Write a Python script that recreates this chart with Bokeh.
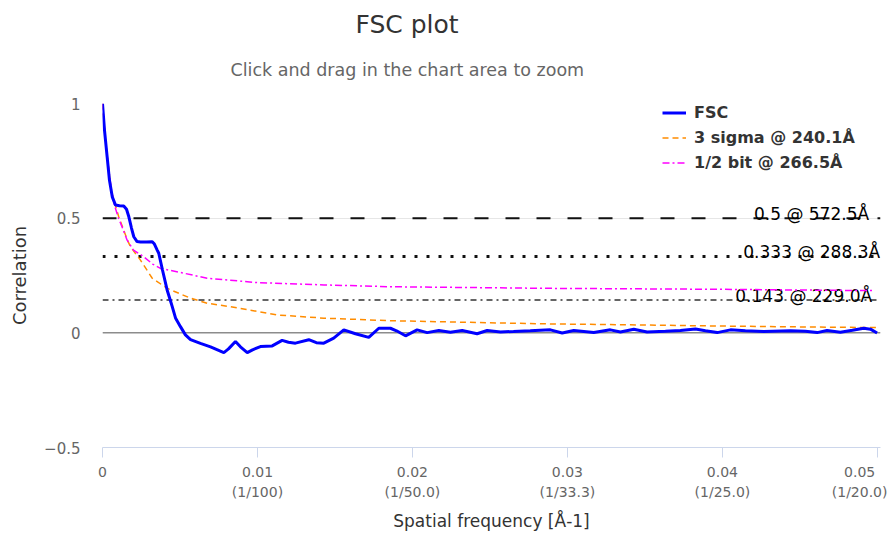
from bokeh.plotting import figure
from bokeh.models import Range1d, FixedTicker, Span, Title, Legend, LegendItem
from bokeh.core.properties import value
from bokeh.embed import file_html
from bokeh.resources import INLINE

FONT = "DejaVu Sans"

# FSC curve: spatial frequency [1/Å] vs correlation
fsc_freq = [0, 0.00013, 0.0003, 0.00045, 0.00063, 0.00084, 0.0011, 0.00137, 0.00155, 0.0017,
            0.00187, 0.00202, 0.00223, 0.00245, 0.00284, 0.00321, 0.00335, 0.00353, 0.00363, 0.00387,
            0.00417, 0.00437, 0.0045, 0.00471, 0.00503, 0.00535, 0.00568, 0.00632, 0.00697, 0.00742,
            0.00783, 0.00813, 0.00858, 0.0089, 0.00934, 0.00968, 0.01019, 0.01095, 0.01159, 0.012,
            0.01245, 0.01331, 0.0138, 0.01428, 0.01492, 0.01557, 0.01632, 0.01718, 0.01783, 0.01858,
            0.01897, 0.01955, 0.0203, 0.02095, 0.0217, 0.02245, 0.02321, 0.02417, 0.02482, 0.02568,
            0.02652, 0.0276, 0.0289, 0.02966, 0.03041, 0.0317, 0.03277, 0.03342, 0.03428, 0.03514,
            0.03632, 0.03729, 0.03826, 0.0389, 0.03966, 0.04052, 0.04148, 0.04266, 0.04439, 0.04535,
            0.04611, 0.04675, 0.04761, 0.04839, 0.04912, 0.04955, 0.04998]
fsc_corr = [1.0, 0.883, 0.767, 0.665, 0.593, 0.557, 0.554, 0.553, 0.539, 0.506,
            0.457, 0.419, 0.398, 0.396, 0.396, 0.397, 0.387, 0.361, 0.347, 0.274,
            0.187, 0.143, 0.114, 0.065, 0.027, -0.009, -0.030, -0.046, -0.061, -0.074,
            -0.086, -0.070, -0.038, -0.061, -0.086, -0.074, -0.060, -0.057, -0.033, -0.041,
            -0.045, -0.030, -0.043, -0.045, -0.023, 0.013, -0.004, -0.020, 0.020, 0.020,
            0.009, -0.013, 0.013, 0.001, 0.010, 0.003, 0.010, -0.004, 0.010, 0.004,
            0.006, 0.009, 0.013, -0.001, 0.010, 0.001, 0.013, 0.004, 0.016, 0.004,
            0.007, 0.010, 0.017, 0.009, 0.001, 0.013, 0.009, 0.006, 0.009, 0.007,
            0.001, 0.010, 0.003, 0.011, 0.020, 0.016, -0.001]

# 3-sigma threshold curve
sigma_freq = [0, 0.00019, 0.00041, 0.00055, 0.00073, 0.00105, 0.00137, 0.00161, 0.00181, 0.00245,
              0.00321, 0.00417, 0.00568, 0.00675, 0.00826, 0.01127, 0.01428, 0.01858, 0.02342, 0.02869,
              0.03406, 0.03942, 0.04471, 0.04998]
sigma_corr = [1.0, 0.839, 0.709, 0.622, 0.578, 0.506, 0.448, 0.404, 0.375, 0.317,
              0.238, 0.194, 0.151, 0.129, 0.114, 0.078, 0.064, 0.053, 0.046, 0.039,
              0.035, 0.030, 0.026, 0.023]

# 1/2-bit threshold curve
halfbit_freq = [0, 0.00019, 0.00039, 0.00058, 0.00077, 0.00103, 0.00129, 0.00159, 0.002, 0.00266,
                0.00323, 0.00374, 0.00525, 0.00675, 0.00998, 0.01428, 0.01858, 0.02869, 0.03942, 0.04974]
halfbit_corr = [1.0, 0.839, 0.717, 0.622, 0.557, 0.500, 0.457, 0.404, 0.361, 0.332,
                0.300, 0.281, 0.260, 0.238, 0.219, 0.209, 0.201, 0.194, 0.190, 0.184]

series_labels = ["FSC", "3 sigma @ 240.1Å", "1/2 bit @ 266.5Å"]

# fixed-correlation thresholds
thr_values = [0.5, 0.333, 0.143]
thr_labels = ["0.5 @ 572.5Å", "0.333 @ 288.3Å", "0.143 @ 229.0Å"]

x_ticks = [0, 0.01, 0.02, 0.03, 0.04, 0.05]
x_tick_labels = ["0", "0.01\n(1/100)", "0.02\n(1/50.0)", "0.03\n(1/33.3)", "0.04\n(1/25.0)", "0.05\n(1/20.0)"]
y_ticks = [-0.5, 0, 0.5, 1]
y_tick_labels = ["\u22120.5", "0", "0.5", "1"]

p = figure(width=887, height=538, output_backend="svg", toolbar_location=None, tools="",
           x_range=Range1d(0, 0.0502), y_range=Range1d(-0.5, 1.0),
           min_border_left=102, min_border_right=7, min_border_top=103, min_border_bottom=91)
p.outline_line_color = None
p.background_fill_color = "white"
p.border_fill_color = "white"

# titles
sub = Title(text="Click and drag in the chart area to zoom", align="left", offset=128,
            text_font=FONT, text_font_size="17.5px", text_font_style="normal",
            text_color="#666666", standoff=48)
p.add_layout(sub, "above")
main = Title(text="FSC plot", align="left", offset=253,
             text_font=FONT, text_font_size="25px", text_font_style="normal",
             text_color="#333333", standoff=-10)
p.add_layout(main, "above")

# grid
p.xgrid.visible = False
p.ygrid.ticker = FixedTicker(ticks=y_ticks)
p.ygrid.grid_line_color = "#e6e6e6"

# x axis
xa = p.xaxis[0]
xa.ticker = FixedTicker(ticks=x_ticks)
xa.major_label_overrides = dict(zip(x_ticks, x_tick_labels))
xa.axis_line_color = "#ccd6eb"
xa.major_tick_line_color = "#ccd6eb"
xa.major_tick_out = 10
xa.major_tick_in = 0
xa.minor_tick_line_color = None
xa.major_label_standoff = 6
xa.major_label_text_font = FONT
xa.major_label_text_font_size = "14px"
xa.major_label_text_color = "#666666"
xa.major_label_text_line_height = 1.3
xa.axis_label = "Spatial frequency [Å-1]"
xa.axis_label_text_font = FONT
xa.axis_label_text_font_size = "17px"
xa.axis_label_text_font_style = "normal"
xa.axis_label_text_color = "#333333"
xa.axis_label_standoff = 8

# y axis
ya = p.yaxis[0]
ya.ticker = FixedTicker(ticks=y_ticks)
ya.major_label_overrides = dict(zip(y_ticks, y_tick_labels))
ya.axis_line_color = None
ya.major_tick_line_color = None
ya.minor_tick_line_color = None
ya.major_tick_out = 0
ya.major_tick_in = 0
ya.major_label_standoff = 22
ya.major_label_text_font = FONT
ya.major_label_text_font_size = "15px"
ya.major_label_text_color = "#666666"
ya.axis_label = "Correlation"
ya.axis_label_text_font = FONT
ya.axis_label_text_font_size = "18px"
ya.axis_label_text_font_style = "normal"
ya.axis_label_text_color = "#333333"
ya.axis_label_standoff = 11

# zero line
p.add_layout(Span(location=0, dimension="width", line_color="#8c8c8c", line_width=1.5, level="underlay"))

# threshold lines
thr_styles = [("14 17", 2, "#111111"), ("3 9", 3, "#111111"), ("6 4 2 4", 1.5, "#333333")]
for v, (dash, w, col) in zip(thr_values, thr_styles):
    p.add_layout(Span(location=v, dimension="width", line_color=col, line_width=w,
                      line_dash=dash, level="underlay"))

p.text(x=[0.04985] * len(thr_values), y=thr_values, text=thr_labels,
       text_align="right", text_baseline="alphabetic", y_offset=-4, x_offset=[-6, 5, -3],
       text_font=value(FONT), text_font_size=value("17px"), text_color="black")

r_sigma = p.line(sigma_freq, sigma_corr, line_color="#ff8c00", line_width=1.5, line_dash="6 4")
r_half = p.line(halfbit_freq, halfbit_corr, line_color="#ff00ff", line_width=1.5, line_dash="7 3 2 3")
r_fsc = p.line(fsc_freq, fsc_corr, line_color="#0000ff", line_width=3)

legend = Legend(items=[LegendItem(label=series_labels[0], renderers=[r_fsc]),
                       LegendItem(label=series_labels[1], renderers=[r_sigma]),
                       LegendItem(label=series_labels[2], renderers=[r_half])],
                location=(560, 274), glyph_width=24, glyph_height=21, label_height=21,
                spacing=4, padding=0, margin=0, label_standoff=8,
                label_text_font=FONT, label_text_font_size="16px", label_text_font_style="bold",
                label_text_color="#333333", border_line_color=None, background_fill_alpha=0)
p.add_layout(legend)

open("out.html", "w").write(file_html(p, INLINE))
